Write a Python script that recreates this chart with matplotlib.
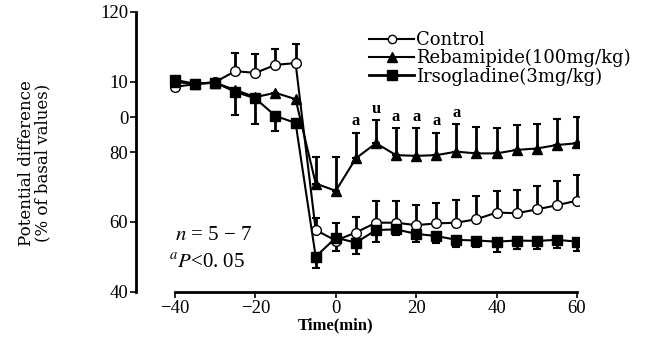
import matplotlib
matplotlib.use("Agg")
import matplotlib.pyplot as plt
from matplotlib.lines import Line2D

time = [-40, -35, -30, -25, -20, -15, -10, -5, 0, 5, 10, 15, 20, 25, 30, 35, 40, 45, 50, 55, 60]
control = [98.6, 99.4, 100, 103.1, 102.6, 104.9, 105.4, 57.7, 54.7, 57.0, 59.8, 59.8, 59.1, 59.6, 59.8, 60.8, 62.7, 62.5, 63.6, 64.8, 66.1]
control_err = [0, 0, 0, 5.2, 5.4, 4.5, 5.5, 3.5, 5.1, 4.5, 6.3, 6.3, 5.9, 5.9, 6.5, 6.7, 6.3, 6.6, 6.7, 7.0, 7.3]
rebamipide = [100, 99.5, 99.8, 97.7, 95.7, 96.9, 95.1, 71.0, 68.9, 78.2, 82.5, 79.1, 78.9, 79.1, 80.1, 79.6, 79.6, 80.6, 81.0, 82.0, 82.5]
rebamipide_err = [0, 0, 0, 0, 0, 0, 0, 7.7, 9.8, 7.3, 6.6, 7.7, 7.9, 6.4, 7.9, 7.6, 7.2, 7.1, 7.0, 7.3, 7.6]
irsogladine = [100.6, 99.5, 99.8, 97.2, 95.3, 90.3, 88.3, 50.1, 55.5, 54.1, 57.7, 57.9, 56.6, 56.0, 54.9, 54.7, 54.4, 54.7, 54.6, 54.9, 54.4]
irsogladine_err = [0, 0, 0, 6.6, 7.3, 4.3, 0, 3.2, 3.7, 3.1, 3.3, 1.6, 2.2, 2.1, 1.9, 1.9, 2.9, 2.5, 2.4, 2.4, 2.6]
sig_times = [5, 10, 15, 20, 25, 30]
sig_labels = ["a", "u", "a", "a", "a", "a"]
yticks = [40, 60, 80, 90, 100, 120]
ytick_labels = ["40", "60", "80", "0", "10", "120"]
xticks = [-40, -20, 0, 20, 40, 60]
series_names = ["Control", "Rebamipide(100mg/kg)", "Irsogladine(3mg/kg)"]

serif = ["Liberation Serif", "DejaVu Serif"]
wide = ["DejaVu Serif"]
plt.rcParams['font.family'] = serif
plt.rcParams['mathtext.fontset'] = 'stix'

fig = plt.figure(figsize=(6.53, 3.42), dpi=100)
ax = fig.add_axes([136/653, 50/342, 443/653, 280/342])

zero = [0]*len(time)
ax.errorbar(time, control, yerr=[zero, control_err], fmt='-o', color='black', mfc='white', mec='black',
            ms=7, lw=1.5, elinewidth=2, capsize=3, capthick=1.5, zorder=3)
ax.errorbar(time, rebamipide, yerr=[zero, rebamipide_err], fmt='-^', color='black', ms=7.5, lw=1.5,
            elinewidth=2, capsize=3, capthick=1.5, zorder=3)
ax.errorbar(time, irsogladine, yerr=[irsogladine_err, zero], fmt='-s', color='black', ms=7, lw=1.5,
            elinewidth=2, capsize=3, capthick=1.5, zorder=3)

for t, lab in zip(sig_times, sig_labels):
    i = time.index(t)
    ax.text(t, rebamipide[i] + rebamipide_err[i] + 1.0, lab, ha='center', va='bottom',
            fontsize=12, fontweight='bold')

ax.set_xlim(-49.7, 60.5)
ax.set_ylim(40, 120)
ax.spines['top'].set_visible(False)
ax.spines['right'].set_visible(False)
ax.spines['left'].set_linewidth(2)
ax.spines['bottom'].set_linewidth(2)
ax.spines['bottom'].set_bounds(-40, 60)
ax.set_xticks(xticks)
ax.set_yticks(yticks)
ax.set_yticklabels(ytick_labels)
ax.tick_params(axis='both', labelsize=13.5, width=1.2, length=4, pad=1.5)

ax.set_xlabel("Time(min)", fontsize=12, fontweight='bold', labelpad=0)
ax.xaxis.set_label_coords((0 + 49.7) / 110.2, -0.09)
ax.set_ylabel("Potential difference\n(% of basal values)", fontsize=12, family=wide,
              linespacing=1.0)
ax.yaxis.set_label_coords(-0.19, 0.46)

ax.text(-40, 55, "$n$ = 5 − 7", fontsize=15)
ax.text(-41.5, 47, "$^{a}P$<0. 05", fontsize=15)

handles = [
    Line2D([], [], color='black', marker='o', mfc='white', ms=6, lw=1.5),
    Line2D([], [], color='black', marker='^', ms=7, lw=1.5),
    Line2D([], [], color='black', marker='s', ms=7, lw=2),
]
ax.legend(handles, series_names, loc='upper left', bbox_to_anchor=(0.49, 0.99), frameon=False,
          prop={'family': wide, 'size': 13}, handlelength=2.5, handletextpad=0.1,
          labelspacing=0.0, borderaxespad=0.5)

fig.savefig("out.png", dpi=100)
